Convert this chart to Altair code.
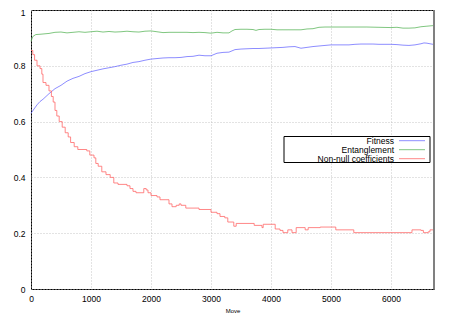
import altair as alt
import pandas as pd

names = ["Fitness", "Entanglement", "Non-null coefficients"]
colors = ["#7070ff", "#60b860", "#ff6868"]

fit_x = [0, 50, 100, 150, 200, 300, 400, 500, 600, 700, 800, 900, 1000, 1100, 1200, 1300, 1400, 1500,
         1600, 1700, 1800, 1900, 2000, 2100, 2200, 2300, 2400, 2500, 2600, 2700, 2800, 2900, 3000, 3100,
         3200, 3300, 3400, 3500, 3600, 3700, 3800, 3900, 4000, 4100, 4200, 4300, 4400, 4500, 4600, 4700,
         4800, 4900, 5000, 5100, 5200, 5300, 5400, 5500, 5600, 5700, 5800, 5900, 6000, 6100, 6200, 6300,
         6400, 6500, 6550, 6600, 6650, 6700]
fit_y = [0.630, 0.645, 0.660, 0.672, 0.680, 0.700, 0.718, 0.730, 0.745, 0.755, 0.762, 0.772, 0.779, 0.784,
         0.789, 0.793, 0.797, 0.802, 0.806, 0.812, 0.815, 0.820, 0.824, 0.826, 0.828, 0.829, 0.829, 0.830,
         0.833, 0.834, 0.838, 0.836, 0.836, 0.845, 0.848, 0.849, 0.858, 0.860, 0.861, 0.862, 0.862, 0.863,
         0.864, 0.865, 0.866, 0.868, 0.869, 0.863, 0.866, 0.869, 0.871, 0.873, 0.875, 0.875, 0.875, 0.875,
         0.877, 0.878, 0.878, 0.878, 0.877, 0.877, 0.877, 0.876, 0.874, 0.873, 0.875, 0.879, 0.882, 0.881,
         0.879, 0.877]

ent_x = [0, 30, 80, 150, 300, 400, 500, 600, 700, 800, 900, 1000, 1100, 1200, 1300, 1400, 1500, 1600,
         1700, 1800, 1900, 2000, 2100, 2200, 2300, 2400, 2500, 2600, 2700, 2800, 2900, 3000, 3100, 3200,
         3300, 3350, 3400, 3500, 3600, 3700, 3750, 3800, 3900, 4000, 4100, 4200, 4300, 4400, 4500, 4600,
         4700, 4800, 4900, 5000, 5200, 5400, 5600, 5800, 6000, 6100, 6200, 6300, 6400, 6500, 6600, 6700]
ent_y = [0.888, 0.905, 0.912, 0.913, 0.916, 0.920, 0.921, 0.918, 0.920, 0.922, 0.920, 0.922, 0.924, 0.921,
         0.923, 0.921, 0.922, 0.924, 0.922, 0.921, 0.924, 0.925, 0.922, 0.919, 0.920, 0.920, 0.920, 0.920,
         0.919, 0.920, 0.919, 0.917, 0.920, 0.918, 0.918, 0.925, 0.930, 0.931, 0.931, 0.930, 0.927, 0.930,
         0.931, 0.931, 0.929, 0.929, 0.929, 0.929, 0.929, 0.932, 0.933, 0.938, 0.939, 0.939, 0.939, 0.939,
         0.939, 0.938, 0.937, 0.938, 0.935, 0.935, 0.936, 0.940, 0.942, 0.944]

nn_x = [0, 30, 60, 100, 150, 180, 200, 250, 300, 340, 370, 400, 430, 470, 520, 570, 620, 660, 720, 780,
        900, 930, 980, 1050, 1080, 1120, 1180, 1250, 1320, 1380, 1450, 1600, 1650, 1700, 1750, 1850, 1880,
        1920, 1950, 2000, 2100, 2150, 2250, 2300, 2350, 2420, 2470, 2500, 2580, 2750, 2800, 2950, 3000,
        3100, 3150, 3230, 3280, 3380, 3420, 3700, 3720, 3850, 3870, 3950, 4070, 4150, 4200, 4280, 4350,
        4420, 4570, 4620, 4820, 5080, 5380, 6350, 6500, 6540, 6620, 6650, 6700]
nn_y = [0.855, 0.84, 0.82, 0.80, 0.79, 0.77, 0.74, 0.73, 0.71, 0.69, 0.67, 0.64, 0.62, 0.60, 0.58, 0.56,
        0.545, 0.525, 0.51, 0.50, 0.50, 0.495, 0.48, 0.47, 0.45, 0.44, 0.42, 0.41, 0.40, 0.38, 0.375, 0.37,
        0.36, 0.35, 0.345, 0.345, 0.36, 0.355, 0.345, 0.335, 0.33, 0.32, 0.32, 0.305, 0.295, 0.30, 0.305,
        0.30, 0.29, 0.29, 0.285, 0.285, 0.275, 0.27, 0.26, 0.255, 0.24, 0.225, 0.235, 0.235, 0.228, 0.22,
        0.232, 0.232, 0.215, 0.21, 0.202, 0.212, 0.202, 0.22, 0.212, 0.22, 0.222, 0.212, 0.202, 0.212, 0.21,
        0.202, 0.205, 0.212, 0.212]

x_ticks = [0, 1000, 2000, 3000, 4000, 5000, 6000]
y_ticks = [0, 0.2, 0.4, 0.6, 0.8, 1]

W, H = 403, 279
FONT = "Liberation Sans"

df_fit = pd.DataFrame({"Move": fit_x, "value": fit_y, "series": names[0]})
df_ent = pd.DataFrame({"Move": ent_x, "value": ent_y, "series": names[1]})
df_nn = pd.DataFrame({"Move": nn_x, "value": nn_y, "series": names[2]})

xenc = alt.X("Move:Q", scale=alt.Scale(domain=[0, 6717], nice=False, zero=False),
             axis=alt.Axis(values=x_ticks, format="d", title="Move", titleFontSize=6,
                           titleFontWeight="normal", titlePadding=5, labelPadding=5,
                           labelFlush=False))
yenc = alt.Y("value:Q", scale=alt.Scale(domain=[0, 1], nice=False),
             axis=alt.Axis(values=y_ticks, format="~g", title=None, labelPadding=6,
                           labelFlush=False,
                           labelOffset=alt.ExprRef("datum.value == 1 ? 2 : 0")))
cenc = alt.Color("series:N", scale=alt.Scale(domain=names, range=colors), legend=None)

line_fit = alt.Chart(df_fit).mark_line(strokeWidth=0.8).encode(x=xenc, y=yenc, color=cenc)
line_ent = alt.Chart(df_ent).mark_line(strokeWidth=0.8).encode(x=xenc, y=yenc, color=cenc)
line_nn = alt.Chart(df_nn).mark_line(strokeWidth=0.8, interpolate="step-after").encode(x=xenc, y=yenc, color=cenc)

right_border = alt.Chart(pd.DataFrame({"a": [0]})).mark_rule(color="#808080", strokeWidth=2).encode(
    x=alt.value(W), y=alt.value(0), y2=alt.value(H))

box = alt.Chart(pd.DataFrame({"a": [0]})).mark_rect(fill="white", stroke="black", strokeWidth=1).encode(
    x=alt.value(253), x2=alt.value(399), y=alt.value(126.5), y2=alt.value(152.5))

legend_layers = [box]
row_y = [130.7, 139.7, 148.7]
for i, n in enumerate(names):
    d = pd.DataFrame({"label": [n]})
    legend_layers.append(alt.Chart(d).mark_text(align="right", baseline="middle", font=FONT,
                                                fontSize=8.5, color="black").encode(
        text="label:N", x=alt.value(363), y=alt.value(row_y[i])))
    legend_layers.append(alt.Chart(d).mark_rule(color=colors[i], strokeWidth=0.8).encode(
        x=alt.value(368), x2=alt.value(394), y=alt.value(row_y[i])))

chart = alt.layer(line_ent, line_fit, line_nn, right_border, *legend_layers).properties(
    width=W, height=H,
    autosize=alt.AutoSizeParams(type="none"),
    padding={"left": 23, "top": 2, "right": 8, "bottom": 24},
).configure_view(stroke="black", strokeWidth=1).configure_axis(
    labelFont=FONT, titleFont=FONT, labelFontSize=8.5, labelColor="black", titleColor="black",
    ticks=False, tickSize=0, domain=False,
    grid=True, gridColor="#b8b8b8", gridDash=[1, 2], gridWidth=0.8,
)

chart.save("out.html", embed_options={"renderer": "svg", "actions": False})
